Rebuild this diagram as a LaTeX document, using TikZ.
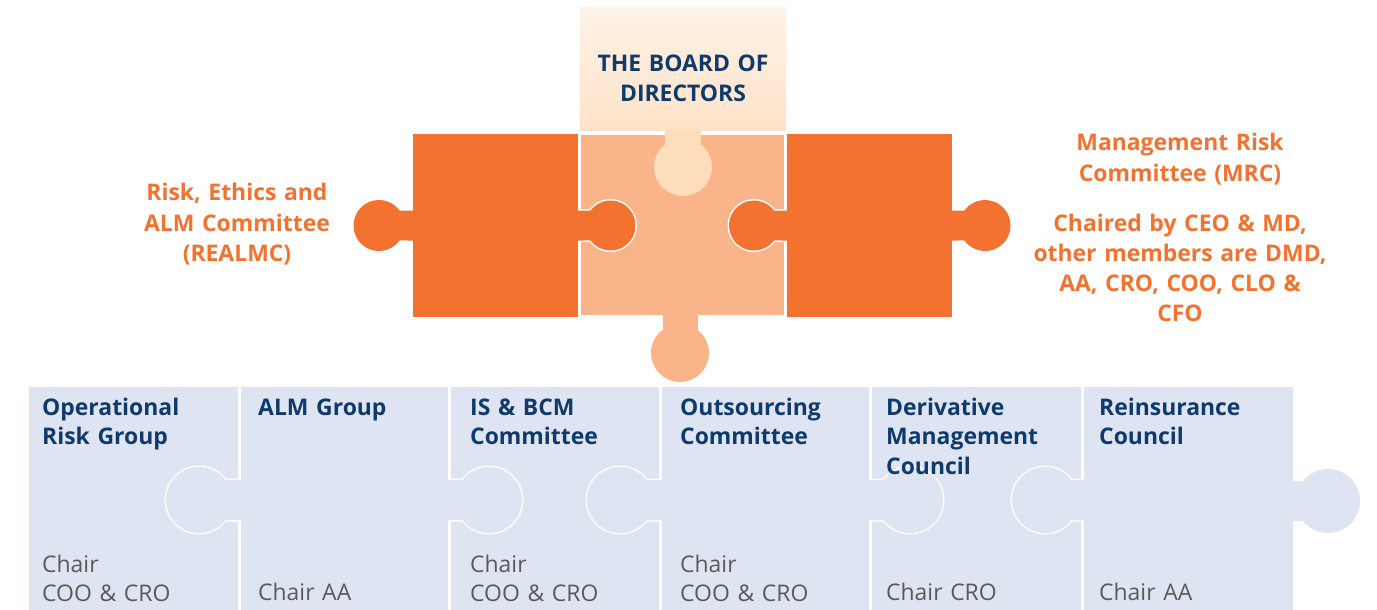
\documentclass[tikz,border=0pt]{standalone}
\usepackage{fontspec}
\setmainfont{Open Sans}
\definecolor{orangeP}{HTML}{F37230}
\definecolor{midP}{HTML}{F9B48A}
\definecolor{boardTop}{HTML}{FFF2E7}
\definecolor{boardBot}{HTML}{FEE3C8}
\definecolor{boardTab}{HTML}{FEDDBA}
\definecolor{blueP}{HTML}{DFE4F2}
\definecolor{navyT}{HTML}{0E3A6C}
\definecolor{grayT}{HTML}{5A5A5A}
\tikzset{
  navylbl/.style={anchor=base west, inner sep=0pt, text width=200bp, align=left, text=navyT,
    font=\fontsize{23}{30}\selectfont\bfseries},
  graylbl/.style={anchor=base west, inner sep=0pt, text width=200bp, align=left, text=grayT,
    font=\fontsize{23}{29}\selectfont},
  orangelbl/.style={anchor=base, inner sep=0pt, text width=340bp, align=center, text=orangeP,
    font=\fontsize{23}{30.3}\selectfont\bfseries},
  boardlbl/.style={anchor=base, inner sep=0pt, text width=220bp, align=center, text=navyT,
    font=\fontsize{23}{30}\selectfont\bfseries},
}
% tab whose circle lies LEFT of the boundary
% #1 fill, #2 stroke, #3 stroke start x, #4 fill start x, #5 cx, #6 cy, #7 r, #8 half neck
\newcommand{\tabLeft}[8]{%
  \pgfmathsetmacro\tA{asin(#8/#7)}%
  \pgfmathsetmacro\tJ{#5+#7*cos(\tA)}%
  \pgfmathsetmacro\tB{360-\tA}%
  \draw[draw=#2, line width=3bp] ({#3},{-#6+#8}) -- ({\tJ},{-#6+#8})
     arc[start angle=\tA, end angle=\tB, radius=#7] -- ({#3},{-#6-#8});
  \fill[#1] ({#4},{-#6+#8}) -- ({\tJ},{-#6+#8})
     arc[start angle=\tA, end angle=\tB, radius=#7] -- ({#4},{-#6-#8}) -- cycle;
}
% tab whose circle lies RIGHT of the boundary
\newcommand{\tabRight}[8]{%
  \pgfmathsetmacro\tA{180-asin(#8/#7)}%
  \pgfmathsetmacro\tJ{#5-#7*cos(asin(#8/#7))}%
  \pgfmathsetmacro\tB{-180+asin(#8/#7)}%
  \draw[draw=#2, line width=3bp] ({#3},{-#6+#8}) -- ({\tJ},{-#6+#8})
     arc[start angle=\tA, end angle=\tB, radius=#7] -- ({#3},{-#6-#8});
  \fill[#1] ({#4},{-#6+#8}) -- ({\tJ},{-#6+#8})
     arc[start angle=\tA, end angle=\tB, radius=#7] -- ({#4},{-#6-#8}) -- cycle;
}
\begin{document}
\begin{tikzpicture}[x=1bp,y=1bp]
\useasboundingbox[fill=white] (0,0) rectangle (1377,-610);

% ---------- board of directors ----------
\shade[top color=boardTop, bottom color=boardBot] (580,-8) rectangle (786,-131);

% ---------- middle piece ----------
\fill[midP] (580,-134) rectangle (785,-316);
\draw[white, line width=2bp] (580,-134) rectangle (785,-316);
% board tab (down into middle piece)
\fill[boardTab] (665,-129) rectangle (701,-150);
\fill[boardTab] (683,-167) circle[radius=29];
% middle piece bottom tab
\fill[midP] (663,-314) rectangle (698,-335);
\fill[midP] (680,-353) circle[radius=29];

% ---------- orange pieces ----------
\fill[orangeP] (413,-134) rectangle (578,-317);
\fill[orangeP] (787,-134) rectangle (952,-317);
\tabRight{orangeP}{white}{579}{570}{610.5}{225.5}{25}{15}
\tabLeft{orangeP}{white}{786}{795}{754}{225.5}{25}{15}
\tabLeft{orangeP}{none}{420}{420}{379}{225.5}{25.5}{15}
\tabRight{orangeP}{none}{945}{945}{985}{225.5}{25.5}{15}

% ---------- bottom row ----------
\fill[blueP] (29,-387) rectangle (238,-612);
\fill[blueP] (241,-387) rectangle (448,-612);
\fill[blueP] (451,-387) rectangle (659,-612);
\fill[blueP] (662,-387) rectangle (869,-612);
\fill[blueP] (871.5,-387) rectangle (1081,-612);
\fill[blueP] (1084,-387) rectangle (1292.5,-612);
\tabLeft{blueP}{white}{239.5}{246}{199}{500}{33}{20}
\tabRight{blueP}{white}{449.5}{442}{489}{500}{33}{20}
\tabLeft{blueP}{white}{660.5}{668}{620}{500}{33}{20}
\tabRight{blueP}{white}{870.2}{863}{910}{500}{33}{20}
\tabLeft{blueP}{white}{1082.5}{1090}{1045}{500}{33}{20}
\tabRight{blueP}{none}{1285}{1285}{1328}{501}{32}{20}

% ---------- texts ----------
\node[boardlbl] (board) at (683,-72) {THE BOARD OF\\DIRECTORS};
\node[orangelbl] (realmc) at (237,-201) {Risk, Ethics and\\ALM Committee\\(REALMC)};
\node[orangelbl] (mrc) at (1180,-151) {Management Risk\\Committee (MRC)};
\node[orangelbl] (mrcchair) at (1180,-231) {Chaired by CEO \& MD,\\other members are DMD,\\AA, CRO, COO, CLO \&\\CFO};

\node[navylbl] (t1) at (42,-415) {Operational\\Risk Group};
\node[navylbl] (t2) at (258,-415) {ALM Group};
\node[navylbl] (t3) at (470,-415) {IS \& BCM\\Committee};
\node[navylbl] (t4) at (680,-415) {Outsourcing\\Committee};
\node[navylbl] (t5) at (886,-415) {Derivative\\Management\\Council};
\node[navylbl] (t6) at (1099,-415) {Reinsurance\\Council};

\node[graylbl] (c1) at (42,-572.5) {Chair\\COO \& CRO};
\node[graylbl] (c2) at (258,-600.5) {Chair AA};
\node[graylbl] (c3) at (470,-572.5) {Chair\\COO \& CRO};
\node[graylbl] (c4) at (680,-572.5) {Chair\\COO \& CRO};
\node[graylbl] (c5) at (886,-600.5) {Chair CRO};
\node[graylbl] (c6) at (1099,-600.5) {Chair AA};
\end{tikzpicture}
\end{document}
